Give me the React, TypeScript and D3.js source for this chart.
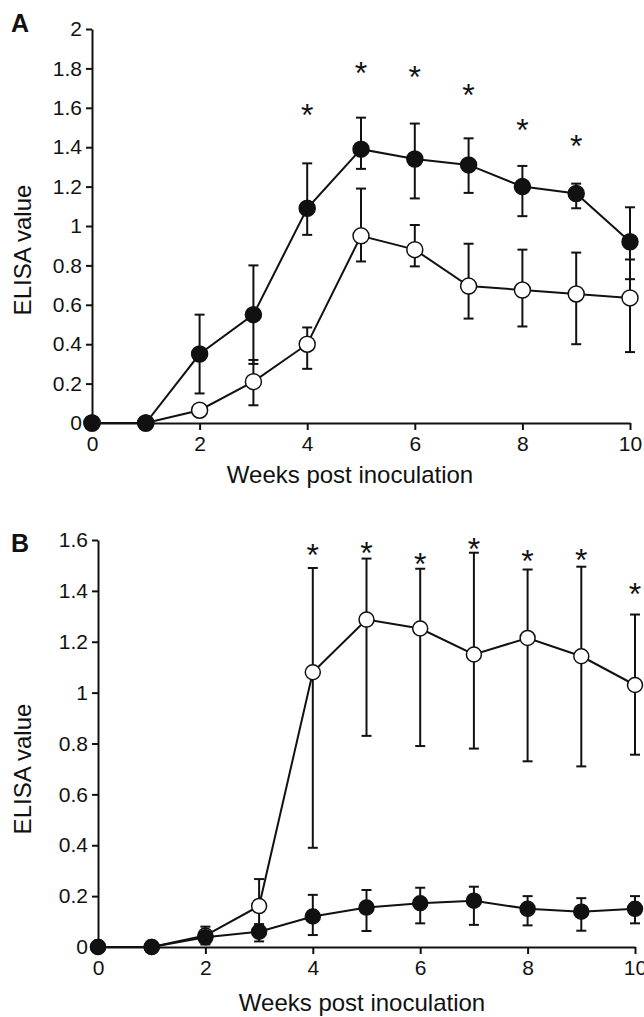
import React, { useEffect, useRef } from 'react';
import * as d3 from 'd3';

// weeks post inoculation
const weeks = [0, 1, 2, 3, 4, 5, 6, 7, 8, 9, 10];
const xTicks = [0, 2, 4, 6, 8, 10];

// panel A
const aFilledMean = [0, 0, 0.35, 0.55, 1.09, 1.39, 1.34, 1.31, 1.2, 1.165, 0.92];
const aFilledLow = [0, 0, 0.15, 0.3, 0.955, 1.29, 1.14, 1.168, 1.05, 1.09, 0.73];
const aFilledHigh = [0, 0, 0.55, 0.8, 1.318, 1.55, 1.52, 1.445, 1.305, 1.215, 1.095];
const aOpenMean = [0, 0, 0.065, 0.21, 0.4, 0.95, 0.88, 0.695, 0.675, 0.655, 0.635];
const aOpenLow = [0, 0, 0.04, 0.09, 0.275, 0.82, 0.795, 0.53, 0.49, 0.4, 0.36];
const aOpenHigh = [0, 0, 0.09, 0.32, 0.485, 1.19, 1.005, 0.91, 0.88, 0.865, 0.83];
const aStarWeeks = [4, 5, 6, 7, 8, 9];
const aStarY = [1.6, 1.81, 1.79, 1.7, 1.525, 1.44];
const aYTicks = [0, 0.2, 0.4, 0.6, 0.8, 1, 1.2, 1.4, 1.6, 1.8, 2];

// panel B
const bFilledMean = [0, 0, 0.038, 0.06, 0.12, 0.155, 0.172, 0.182, 0.15, 0.139, 0.15];
const bFilledLow = [0, 0, 0.01, 0.022, 0.047, 0.063, 0.093, 0.087, 0.085, 0.064, 0.093];
const bFilledHigh = [0, 0, 0.08, 0.09, 0.205, 0.224, 0.233, 0.237, 0.2, 0.192, 0.2];
const bOpenMean = [0, 0, 0.045, 0.161, 1.08, 1.287, 1.252, 1.15, 1.215, 1.143, 1.03];
const bOpenLow = [0, 0, 0.045, 0.06, 0.39, 0.83, 0.79, 0.78, 0.73, 0.71, 0.756];
const bOpenHigh = [0, 0, 0.045, 0.267, 1.49, 1.527, 1.487, 1.55, 1.484, 1.495, 1.307];
const bStarWeeks = [4, 5, 6, 7, 8, 9, 10];
const bStarY = [1.57, 1.576, 1.534, 1.593, 1.543, 1.547, 1.416];
const bYTicks = [0, 0.2, 0.4, 0.6, 0.8, 1, 1.2, 1.4, 1.6];

const FONT = '"Liberation Sans", Arial, sans-serif';

const drawPanel = (svg, p) => {
  const x = d3.scaleLinear().domain([0, 10]).range([p.left, p.right]);
  const y = d3.scaleLinear().domain([0, p.yMax]).range([p.bottom, p.top]);
  const g = svg.append('g');

  // axes
  g.append('g')
    .attr('transform', `translate(0,${p.bottom})`)
    .call(d3.axisBottom(x).tickValues(xTicks).tickSize(7).tickSizeOuter(0).tickPadding(6).tickFormat((d) => String(d)))
    .call((sel) => sel.selectAll('path,line').attr('stroke', '#111').attr('stroke-width', 2))
    .call((sel) => sel.selectAll('text').attr('fill', '#111').attr('font-size', 21).attr('font-family', FONT));

  g.append('g')
    .attr('transform', `translate(${p.left},0)`)
    .call(d3.axisLeft(y).tickValues(p.yTicks).tickSize(6).tickSizeOuter(0).tickPadding(4).tickFormat((d) => String(+(+d).toFixed(1))))
    .call((sel) => sel.selectAll('path,line').attr('stroke', '#111').attr('stroke-width', 2))
    .call((sel) => sel.selectAll('text').attr('fill', '#111').attr('font-size', 21).attr('font-family', FONT));

  const series = [
    { mean: p.openMean, low: p.openLow, high: p.openHigh, fill: '#fff' },
    { mean: p.filledMean, low: p.filledLow, high: p.filledHigh, fill: '#111' },
  ];

  series.forEach((s) => {
    const pts = weeks.map((w, i) => ({ w, v: s.mean[i], lo: s.low[i], hi: s.high[i] }));
    const line = d3.line().x((d) => x(d.w)).y((d) => y(d.v));

    g.append('path')
      .datum(pts)
      .attr('fill', 'none')
      .attr('stroke', '#111')
      .attr('stroke-width', 2)
      .attr('d', line);

    const bars = g.append('g').attr('stroke', '#111').attr('stroke-width', 2);
    pts.filter((d) => d.hi > d.lo).forEach((d) => {
      bars.append('line').attr('x1', x(d.w)).attr('x2', x(d.w)).attr('y1', y(d.hi)).attr('y2', y(d.lo));
      bars.append('line').attr('x1', x(d.w) - 5).attr('x2', x(d.w) + 5).attr('y1', y(d.hi)).attr('y2', y(d.hi));
      bars.append('line').attr('x1', x(d.w) - 5).attr('x2', x(d.w) + 5).attr('y1', y(d.lo)).attr('y2', y(d.lo));
    });

    g.selectAll(null)
      .data(pts)
      .enter()
      .append('circle')
      .attr('cx', (d) => x(d.w))
      .attr('cy', (d) => y(d.v))
      .attr('r', p.r)
      .attr('fill', s.fill)
      .attr('stroke', '#111')
      .attr('stroke-width', 1.5);
  });

  // significance marks
  g.selectAll(null)
    .data(p.starWeeks.map((w, i) => ({ w, v: p.starY[i] })))
    .enter()
    .append('text')
    .attr('x', (d) => x(d.w))
    .attr('y', (d) => y(d.v) + 18)
    .attr('text-anchor', 'middle')
    .attr('font-size', 32)
    .attr('font-family', FONT)
    .attr('fill', '#111')
    .text('*');

  // titles
  g.append('text')
    .attr('x', p.xTitleX)
    .attr('y', p.xTitleY)
    .attr('text-anchor', 'middle')
    .attr('font-size', 24)
    .attr('font-family', FONT)
    .attr('fill', '#111')
    .text('Weeks post inoculation');

  g.append('text')
    .attr('transform', `translate(31,${p.yTitleY}) rotate(-90)`)
    .attr('text-anchor', 'middle')
    .attr('font-size', 24)
    .attr('font-family', FONT)
    .attr('fill', '#111')
    .text('ELISA value');

  g.append('text')
    .attr('x', 11)
    .attr('y', p.letterY)
    .attr('font-size', 25)
    .attr('font-weight', 700)
    .attr('font-family', FONT)
    .attr('fill', '#111')
    .text(p.letter);
};

const App = () => {
  const svgRef = useRef(null);

  useEffect(() => {
    const svg = d3.select(svgRef.current);
    svg.selectAll('*').remove();

    drawPanel(svg, {
      left: 92, right: 630, top: 29, bottom: 423, yMax: 2, yTicks: aYTicks, r: 8,
      filledMean: aFilledMean, filledLow: aFilledLow, filledHigh: aFilledHigh,
      openMean: aOpenMean, openLow: aOpenLow, openHigh: aOpenHigh,
      starWeeks: aStarWeeks, starY: aStarY,
      xTitleX: 350, xTitleY: 483, yTitleY: 250, letter: 'A', letterY: 32,
    });

    drawPanel(svg, {
      left: 98, right: 635, top: 540, bottom: 947, yMax: 1.6, yTicks: bYTicks, r: 7.5,
      filledMean: bFilledMean, filledLow: bFilledLow, filledHigh: bFilledHigh,
      openMean: bOpenMean, openLow: bOpenLow, openHigh: bOpenHigh,
      starWeeks: bStarWeeks, starY: bStarY,
      xTitleX: 362, xTitleY: 1011, yTitleY: 769, letter: 'B', letterY: 552,
    });
  }, []);

  return (
    <svg
      ref={svgRef}
      width={644}
      height={1017}
      style={{ position: 'absolute', left: 0, top: 0, background: '#fff' }}
    />
  );
};

export default App;
